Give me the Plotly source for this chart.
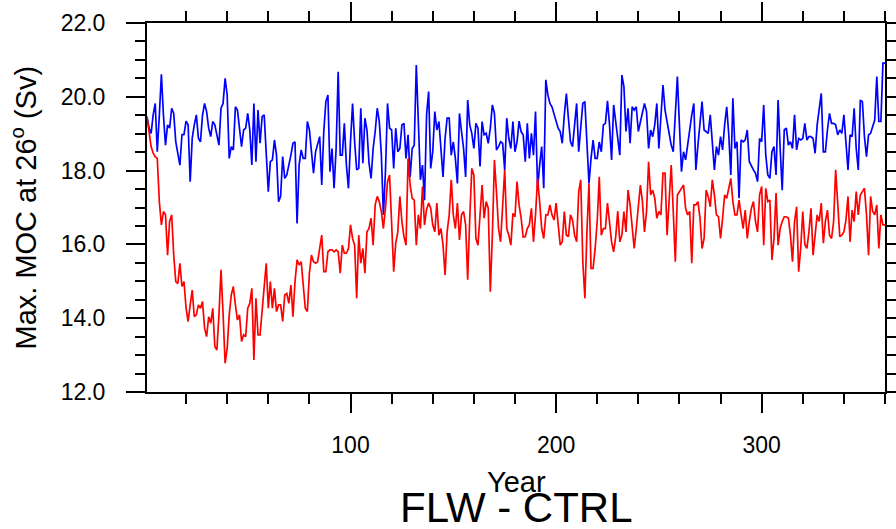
import plotly.graph_objects as go

# Years 1..360
years = list(range(1, 361))

# Blue series (CTRL) - Max. MOC at 26N (Sv)
moc_ctrl = [
    19.46, 19.15, 19.01, 19.51, 19.82, 18.51, 19.5, 20.61, 19.5, 18.69,
    19.24, 19.15, 19.69, 19.55, 18.78, 18.51, 18.15, 18.97, 18.98, 19.34,
    19.24, 17.7, 18.88, 19.24, 19.51, 18.88, 18.78, 19.5, 19.82, 19.6,
    19.15, 18.92, 19.33, 19.24, 18.96, 18.69, 19.69, 19.82, 20.5, 20.05,
    18.33, 18.65, 18.56, 19.73, 19.64, 19.15, 18.65, 19.1, 19.15, 19.55,
    19.1, 18.15, 19.82, 18.24, 19.64, 18.74, 19.46, 19.51, 18.6, 17.43,
    18.24, 18.29, 18.83, 18.42, 17.16, 17.3, 18.38, 17.79, 17.88, 18.11,
    18.42, 18.74, 18.78, 16.57, 18.15, 18.56, 18.33, 18.33, 19.33, 19.1,
    18.6, 17.93, 18.51, 18.69, 18.92, 17.61, 19.06, 19.87, 20.05, 17.97,
    18.6, 17.52, 18.6, 20.68, 18.42, 18.42, 19.28, 18.15, 17.52, 18.78,
    19.82, 18.78, 18.02, 18.06, 19.69, 18.2, 19.42, 19.1, 18.2, 17.79,
    18.6, 19.06, 19.69, 19.33, 18.42, 16.8, 17.97, 19.82, 19.15, 19.1,
    18.06, 19.15, 18.51, 18.6, 19.24, 19.28, 18.33, 18.97, 17.83, 18.6,
    18.69, 20.86, 19.24, 17.75, 18.15, 17.2, 19.51, 20.14, 18.06, 18.51,
    19.6, 19.1, 19.33, 18.51, 17.83, 18.87, 19.42, 19.42, 18.42, 18.78,
    18.33, 17.65, 19.55, 19.06, 18.6, 17.83, 19.91, 19.24, 19.01, 18.6,
    19.28, 19.15, 18.11, 19.33, 18.97, 19.01, 18.74, 19.15, 19.78, 19.55,
    18.56, 18.65, 18.78, 18.74, 18.02, 19.42, 18.87, 18.6, 19.33, 18.51,
    18.78, 19.34, 19.05, 18.97, 18.24, 19.28, 18.33, 19.01, 18.42, 19.6,
    17.52, 18.15, 18.65, 17.52, 20.46, 20.05, 19.82, 19.73, 19.51, 19.33,
    19.15, 19.06, 18.74, 19.51, 20.09, 19.42, 18.78, 18.65, 19.24, 19.82,
    18.51, 19.15, 19.82, 19.87, 18.69, 17.65, 18.33, 18.83, 18.33, 18.33,
    18.78, 18.51, 19.24, 19.28, 19.89, 19.24, 18.29, 19.78, 19.33, 18.85,
    18.42, 20.59, 20.28, 19.06, 19.69, 18.74, 19.73, 19.64, 19.73, 19.06,
    19.33, 19.6, 19.82, 19.6, 18.6, 19.1, 18.92, 19.24, 19.82, 18.6,
    19.37, 20.32, 19.64, 19.33, 19.06, 18.69, 18.51, 19.51, 20.55, 19.24,
    17.97, 18.51, 18.29, 18.69, 19.19, 19.51, 19.82, 18.02, 18.69, 19.37,
    19.87, 19.1, 19.06, 19.01, 19.51, 18.65, 18.02, 18.65, 18.42, 18.92,
    18.56, 19.24, 19.73, 18.97, 17.88, 19.96, 18.6, 18.78, 17.25, 18.83,
    18.78, 18.83, 19.1, 18.24, 18.11, 18.02, 17.93, 17.7, 18.87, 18.78,
    19.78, 18.42, 17.88, 17.79, 18.51, 18.65, 17.88, 19.91, 18.6, 17.47,
    19.1, 19.15, 18.69, 18.78, 18.6, 19.51, 18.56, 18.87, 18.83, 18.87,
    19.28, 18.83, 18.92, 18.92, 18.87, 18.47, 19.24, 19.6, 20.09, 18.51,
    18.51, 19.1, 19.55, 19.28, 19.28, 19.24, 18.97, 19.1, 19.01, 19.51,
    18.69, 18.02, 18.97, 18.92, 19.69, 18.6, 18.02, 19.91, 19.87, 18.92,
    18.38, 18.97, 19.01, 19.19, 19.37, 20.55, 19.33, 19.33, 20.91, 20.91,
]

# Red series (FLW)
moc_flw = [
    19.46, 19.05, 18.65, 18.47, 18.38, 18.33, 17.16, 16.53, 16.89, 16.8,
    15.71, 16.62, 16.8, 15.71, 14.99, 14.94, 15.49, 14.86, 14.99, 14.27,
    13.91, 14.36, 14.76, 14.04, 14.09, 14.36, 14.27, 14.45, 13.73, 13.5,
    14.04, 13.86, 14.27, 13.23, 13.14, 14.09, 15.31, 14.13, 12.78, 13.18,
    14.09, 14.63, 14.86, 14.36, 13.95, 14.09, 13.37, 13.55, 13.5, 14.27,
    14.4, 14.81, 12.87, 14.54, 13.55, 13.55, 14.27, 14.99, 15.49, 14.27,
    14.99, 14.27, 14.81, 14.18, 14.36, 14.36, 13.91, 14.63, 14.67, 14.4,
    14.9, 14.04, 14.99, 15.58, 15.44, 15.53, 14.99, 14.27, 14.18, 15.22,
    15.71, 15.53, 15.49, 15.53, 15.89, 16.25, 15.26, 15.26, 15.8, 15.85,
    15.85, 15.8, 15.85, 15.8, 15.22, 15.98, 15.76, 15.76, 15.89, 16.53,
    16.16, 15.98, 14.54, 16.25, 15.49, 15.89, 15.22, 16.34, 16.43, 16.71,
    15.98, 17.07, 17.3, 17.16, 16.89, 16.43, 16.98, 17.7, 17.88, 16.43,
    15.26, 16.03, 16.34, 17.3, 16.62, 16.21, 15.98, 18.33, 17.61, 17.25,
    17.2, 15.98, 16.8, 16.43, 17.57, 16.53, 16.95, 17.12, 16.98, 16.53,
    16.34, 17.12, 16.25, 16.43, 15.98, 15.17, 16.34, 16.8, 17.75, 16.8,
    16.43, 17.12, 16.12, 16.8, 16.89, 16.53, 15.04, 16.71, 18.06, 17.88,
    16.16, 15.98, 16.71, 17.61, 16.71, 17.16, 16.98, 14.72, 16.25, 18.29,
    17.43, 16.43, 16.07, 16.98, 18.02, 16.43, 16.25, 15.98, 16.84, 16.75,
    17.7, 17.07, 16.71, 16.2, 16.21, 16.43, 16.53, 16.98, 16.07, 16.8,
    17.79, 17.16, 16.43, 16.16, 16.8, 16.8, 17.07, 16.8, 16.66, 17.12,
    16.43, 15.98, 16.07, 16.89, 16.25, 16.21, 16.8, 16.66, 16.25, 16.07,
    17.43, 17.75, 15.53, 14.54, 16.34, 17.65, 15.35, 15.35, 15.89, 16.62,
    17.83, 16.25, 16.43, 16.43, 17.12, 16.62, 16.07, 15.8, 16.2, 16.9,
    16.07, 16.25, 16.89, 16.34, 17.47, 17.07, 16.43, 15.89, 16.43, 17.07,
    17.61, 17.16, 16.34, 16.89, 18.24, 17.34, 17.47, 17.25, 16.71, 16.89,
    16.8, 17.93, 17.93, 16.25, 17.16, 18.15, 16.89, 15.53, 17.34, 17.43,
    17.52, 17.61, 16.98, 16.8, 16.89, 15.49, 17.07, 17.07, 17.16, 16.71,
    15.89, 16.16, 17.47, 17.3, 17.02, 17.75, 17.34, 16.8, 16.75, 16.16,
    16.71, 17.34, 17.25, 17.52, 17.79, 17.16, 16.8, 16.8, 17.2, 16.8,
    16.43, 16.93, 16.16, 16.62, 16.98, 17.16, 16.62, 16.34, 17.34, 17.57,
    15.98, 17.52, 17.16, 17.2, 15.58, 16.16, 17.39, 15.98, 16.43, 16.62,
    16.75, 16.75, 16.71, 16.25, 15.53, 16.62, 17.02, 15.26, 15.9, 16.89,
    16.0, 15.89, 16.34, 16.98, 15.71, 16.25, 16.8, 16.62, 17.12, 16.03,
    16.62, 16.93, 16.25, 16.16, 16.62, 18.02, 16.98, 16.21, 16.25, 16.34,
    16.66, 17.3, 16.07, 16.93, 16.62, 17.43, 16.8, 17.34, 17.43, 17.52,
    16.8, 15.71, 17.3, 16.89, 16.8, 17.07, 15.89, 16.8, 16.53, 16.53,
]

title_text = "FLW - CTRL"
x_title = "Year"
y_title = "Max. MOC at 26<sup>o</sup> (Sv)"

FONT = "Liberation Sans, Arial, Helvetica, sans-serif"

fig = go.Figure()
fig.add_trace(go.Scatter(x=years, y=moc_ctrl, mode="lines",
                         line=dict(color="#0000ff", width=1.7), showlegend=False))
fig.add_trace(go.Scatter(x=years, y=moc_flw, mode="lines",
                         line=dict(color="#ff0000", width=1.7), showlegend=False))

axis_common = dict(
    showline=True, linecolor="black", linewidth=2, mirror="allticks",
    ticks="outside", ticklen=19, tickwidth=2, tickcolor="black",
    showgrid=False, zeroline=False, automargin=False,
    tickfont=dict(family=FONT, size=23, color="black"),
)

fig.update_xaxes(range=[1, 360], tick0=0, dtick=100, ticklabelstandoff=12,
                 minor=dict(dtick=20, tick0=0, ticklen=10, tickwidth=1.5,
                            tickcolor="black", ticks="outside"),
                 **axis_common)
fig.update_yaxes(range=[12, 22], tick0=12, dtick=2, tickformat=".1f",
                 ticklabelstandoff=16,
                 minor=dict(dtick=0.5, tick0=12, ticklen=10, tickwidth=1.5,
                            tickcolor="black", ticks="outside"),
                 **axis_common)

fig.update_layout(
    width=896, height=529,
    margin=dict(l=147, r=11, t=23, b=137),
    paper_bgcolor="white", plot_bgcolor="white",
    annotations=[
        dict(text=x_title, xref="paper", yref="paper", x=0.5, y=-0.244,
             xanchor="center", yanchor="middle", showarrow=False,
             font=dict(family=FONT, size=29, color="black")),
        dict(text=title_text, xref="paper", yref="paper", x=0.5, y=-0.312,
             xanchor="center", yanchor="middle", showarrow=False,
             font=dict(family=FONT, size=42, color="black")),
        dict(text=y_title, xref="paper", yref="paper", x=-0.168, y=0.5,
             xanchor="center", yanchor="middle", showarrow=False, textangle=-90,
             font=dict(family=FONT, size=29, color="black")),
    ],
)

fig.write_html("out.html", config={"displayModeBar": False},
               post_script="document.body.style.margin='0';document.body.style.overflow='hidden';")
